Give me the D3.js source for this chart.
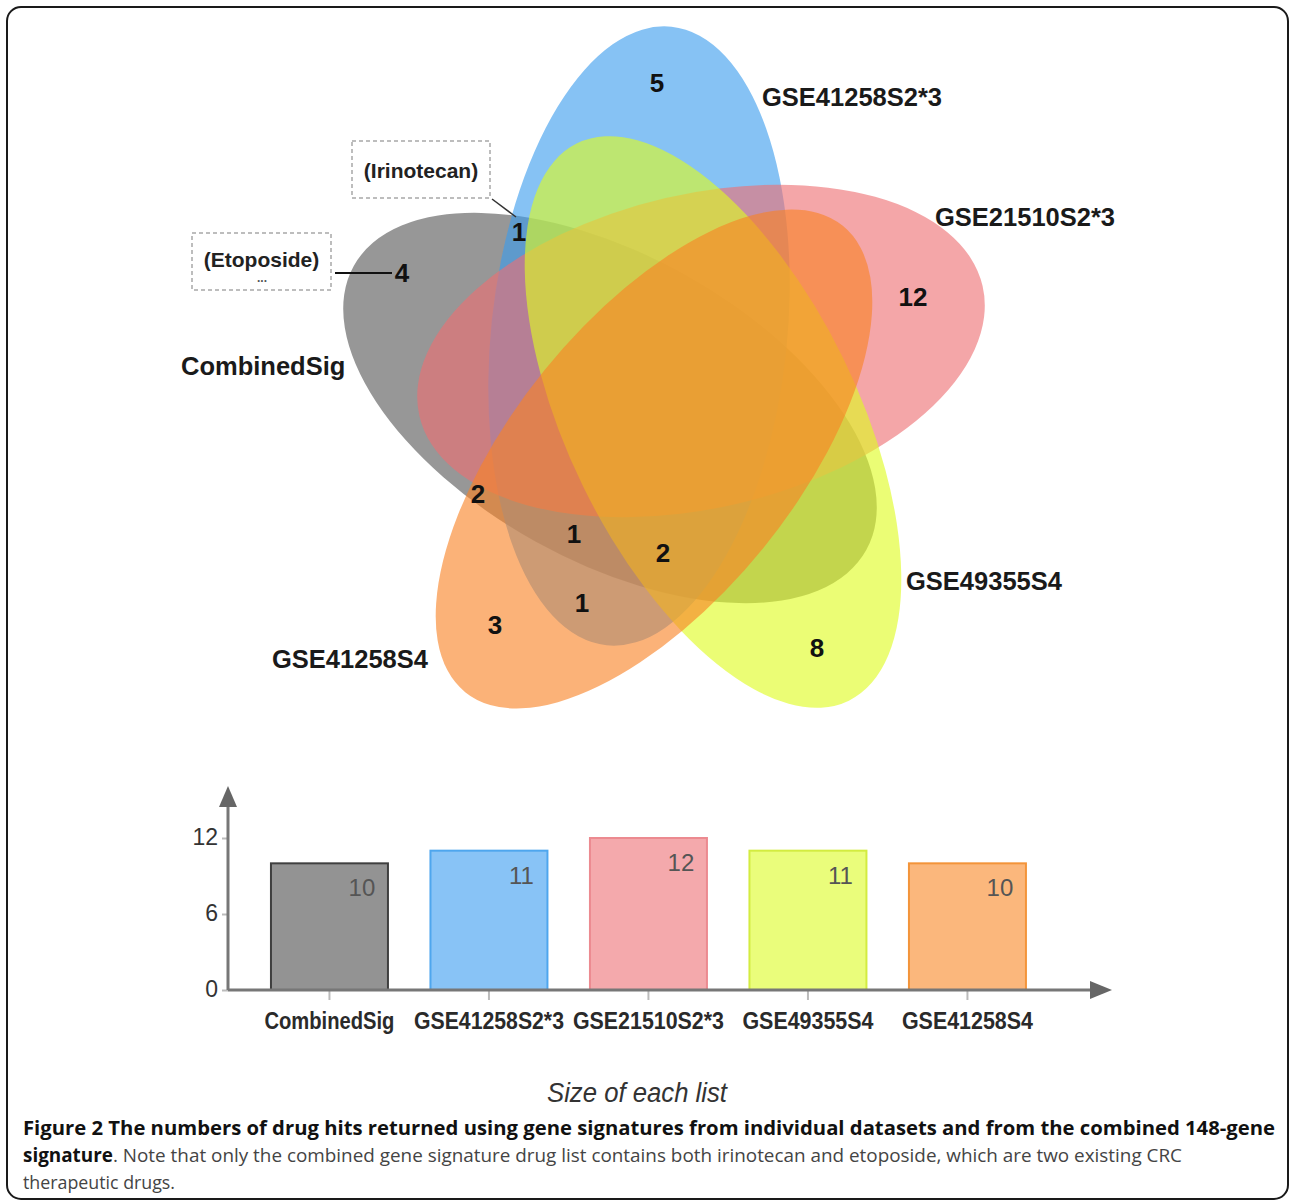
<!DOCTYPE html>
<html><head><meta charset="utf-8">
<script src="https://cdn.jsdelivr.net/npm/d3@7"></script>
<style>html,body{margin:0;padding:0;background:#fff;} svg{display:block;}</style>
</head><body>
<svg id="chart" width="1289" height="1201"></svg>
<script>
// ---------------- DATA ----------------
const setNames = ["CombinedSig", "GSE41258S2*3", "GSE21510S2*3", "GSE49355S4", "GSE41258S4"];
const listSizes = [10, 11, 12, 11, 10];
const regionSets = [
  ["GSE41258S2*3"],
  ["CombinedSig", "GSE41258S2*3"],
  ["CombinedSig"],
  ["GSE21510S2*3"],
  ["CombinedSig", "GSE41258S4"],
  ["CombinedSig", "GSE41258S2*3", "GSE41258S4"],
  ["CombinedSig", "GSE41258S2*3", "GSE49355S4", "GSE41258S4"],
  ["GSE41258S2*3", "GSE41258S4"],
  ["GSE41258S4"],
  ["GSE49355S4"]
];
const regionCounts = [5, 1, 4, 12, 2, 1, 2, 1, 3, 8];
const yTickValues = [0, 6, 12];
const drugNotes = ["(Irinotecan)", "(Etoposide)"];
const xAxisTitle = "Size of each list";
const captionLine1 = "Figure 2 The numbers of drug hits returned using gene signatures from individual datasets and from the combined 148-gene";
const captionLine2Bold = "signature";
const captionLine2 = ". Note that only the combined gene signature drug list contains both irinotecan and etoposide, which are two existing CRC";
const captionLine3 = "therapeutic drugs.";

// ---------------- LAYOUT / STYLE ----------------
const vennFill = ["#575757", "#3c9dee", "#ed7073", "#defc21", "#f88225"];
const barFill = ["#939393", "#88c3f6", "#f4a9ac", "#eafd7b", "#fbb77c"];
const barStroke = ["#3f3f3f", "#4ea6ee", "#ec8a90", "#d3ec40", "#f3943a"];
const catLabelWidth = [130, 150, 151, 131, 131];
// ellipse geometry in venn units (offsets from the venn centre)
const ellipseGeom = [
  {cx: -50, cy: 8,   a: 293, b: 153, rot: 29},
  {cx: -21, cy: -64, a: 311, b: 148, rot: 96},
  {cx: 41,  cy: -49, a: 289, b: 157, rot: -13},
  {cx: 53,  cy: 22,  a: 310, b: 145, rot: 64},
  {cx: -6,  cy: 59,  a: 300, b: 141, rot: 129}
];
const regionLabelPos = [[-3,-317],[-141,-168],[-258,-127],[253,-103],[-182,94],[-86,134],[3,153],[-78,203],[-165,225],[157,248]];
const setLabelPos = [[-479,-34],[102,-303],[275,-183],[246,181],[-388,259]];

const svg = d3.select("#chart");

// border
svg.append("rect").attr("x", 7).attr("y", 7).attr("width", 1281).attr("height", 1192)
  .attr("rx", 14).attr("fill", "none").attr("stroke", "#1a1a1a").attr("stroke-width", 2);

// ---------------- VENN ----------------
const vx = d3.scaleLinear().domain([-400, 400]).range([260, 1060]);
const vy = d3.scaleLinear().domain([-400, 400]).range([0, 800]);
const vk = (vx(1) - vx(0));

const venn = svg.append("g");
venn.selectAll("ellipse").data(setNames).join("ellipse")
  .attr("cx", (d, i) => vx(ellipseGeom[i].cx))
  .attr("cy", (d, i) => vy(ellipseGeom[i].cy))
  .attr("rx", (d, i) => ellipseGeom[i].a * vk)
  .attr("ry", (d, i) => ellipseGeom[i].b * vk)
  .attr("transform", (d, i) => `rotate(${ellipseGeom[i].rot},${vx(ellipseGeom[i].cx)},${vy(ellipseGeom[i].cy)})`)
  .attr("fill", (d, i) => vennFill[i])
  .attr("fill-opacity", 0.62);

venn.selectAll("text.cnt").data(regionCounts).join("text").attr("class", "cnt")
  .attr("x", (d, i) => vx(regionLabelPos[i][0]))
  .attr("y", (d, i) => vy(regionLabelPos[i][1]))
  .attr("dy", "0.36em")
  .attr("text-anchor", "middle")
  .style("font-family", "'Liberation Sans', Arial, sans-serif")
  .style("font-weight", "bold").style("font-size", "26px").attr("fill", "#111")
  .text(d => d);

venn.selectAll("text.setlab").data(setNames).join("text").attr("class", "setlab")
  .attr("x", (d, i) => vx(setLabelPos[i][0]))
  .attr("y", (d, i) => vy(setLabelPos[i][1]))
  .attr("dy", "0.36em")
  .style("font-family", "'Liberation Sans', Arial, sans-serif")
  .style("font-weight", "bold").style("font-size", "25.5px").attr("fill", "#1a1a1a")
  .text(d => d);

// annotation boxes
const notes = svg.append("g").style("font-family", "'Liberation Sans', Arial, sans-serif");
const noteBoxes = [
  {x: -308, y: -259, w: 138, h: 57, ty: -230, line: [[-168, -201], [-144, -183]]},
  {x: -468, y: -167, w: 139, h: 57, ty: -141, line: [[-325, -127], [-268, -127]]}
];
noteBoxes.forEach((b, i) => {
  notes.append("rect").attr("x", vx(b.x)).attr("y", vy(b.y)).attr("width", b.w * vk).attr("height", b.h * vk)
    .attr("fill", "none").attr("stroke", "#a8a8a8").attr("stroke-width", 1.5).attr("stroke-dasharray", "4,3");
  notes.append("text").attr("x", vx(b.x + b.w / 2)).attr("y", vy(b.ty))
    .attr("dy", "0.36em").attr("text-anchor", "middle")
    .style("font-weight", "bold").style("font-size", "21px").attr("fill", "#222").text(drugNotes[i]);
  notes.append("line").attr("x1", vx(b.line[0][0])).attr("y1", vy(b.line[0][1]))
    .attr("x2", vx(b.line[1][0])).attr("y2", vy(b.line[1][1]))
    .attr("stroke", i === 0 ? "#333" : "#111").attr("stroke-width", i === 0 ? 1.5 : 2);
});
notes.append("text").attr("x", vx(-398)).attr("y", vy(-118)).attr("text-anchor", "middle")
  .style("font-weight", "bold").style("font-size", "12px").attr("fill", "#555").text("...");

// ---------------- BAR CHART ----------------
const x = d3.scaleBand().domain(setNames).range([249.7, 1047.2]).paddingInner(0.2665).paddingOuter(0.1333);
const y = d3.scaleLinear().domain([0, 12]).range([990, 838]);
const bar = svg.append("g");

bar.selectAll("rect.bar").data(listSizes).join("rect").attr("class", "bar")
  .attr("x", (d, i) => x(setNames[i]))
  .attr("y", d => y(d))
  .attr("width", x.bandwidth())
  .attr("height", d => y(0) - y(d))
  .attr("fill", (d, i) => barFill[i])
  .attr("stroke", (d, i) => barStroke[i]).attr("stroke-width", 2);

bar.selectAll("text.val").data(listSizes).join("text").attr("class", "val")
  .attr("x", (d, i) => x(setNames[i]) + x.bandwidth() - 26)
  .attr("y", d => y(d) + 33)
  .attr("text-anchor", "middle")
  .style("font-family", "'Liberation Sans', Arial, sans-serif").style("font-size", "24px")
  .attr("fill", "#555").text(d => d);

// y axis
const yAxis = bar.append("g").attr("transform", "translate(228,0)")
  .call(d3.axisLeft(y).tickValues(yTickValues).tickSize(6).tickPadding(4));
yAxis.select(".domain").remove();
yAxis.selectAll(".tick line").attr("stroke", "#bbb").attr("stroke-width", 2);
yAxis.selectAll(".tick text").style("font-family", "'Liberation Sans', Arial, sans-serif")
  .style("font-size", "23px").attr("fill", "#333").attr("dy", "0.28em");

// x axis
const xAxis = bar.append("g").attr("transform", "translate(0,990)")
  .call(d3.axisBottom(x).tickSize(10).tickPadding(13));
xAxis.select(".domain").remove();
xAxis.selectAll(".tick line").attr("stroke", "#bbb").attr("stroke-width", 2);
xAxis.selectAll(".tick text")
  .attr("textLength", (d, i) => catLabelWidth[i]).attr("lengthAdjust", "spacingAndGlyphs")
  .style("font-family", "'Liberation Sans', Arial, sans-serif")
  .style("font-size", "23px").style("font-weight", "bold").attr("fill", "#2a2a2a");

// axis lines with arrows
bar.append("line").attr("x1", 228).attr("y1", y(0)).attr("x2", 228).attr("y2", 800)
  .attr("stroke", "#777").attr("stroke-width", 3);
bar.append("line").attr("x1", 228).attr("y1", y(0)).attr("x2", 1095).attr("y2", y(0))
  .attr("stroke", "#777").attr("stroke-width", 3);
bar.append("path").attr("d", `M228,786 L219,807 L237,807 Z`).attr("fill", "#666");
bar.append("path").attr("d", `M1112,${y(0)} L1090,${y(0) - 9} L1090,${y(0) + 9} Z`).attr("fill", "#666");

bar.append("text").attr("x", 637).attr("y", 1102).attr("text-anchor", "middle")
  .attr("textLength", 180).attr("lengthAdjust", "spacingAndGlyphs")
  .style("font-family", "'Liberation Sans', Arial, sans-serif").style("font-style", "italic")
  .style("font-size", "27px").attr("fill", "#333").text(xAxisTitle);

// ---------------- CAPTION ----------------
const cap = svg.append("g").style("font-family", "'Open Sans', 'Noto Sans', sans-serif").style("font-size", "19px");
cap.append("text").attr("x", 23).attr("y", 1135).attr("textLength", 1252).attr("lengthAdjust", "spacingAndGlyphs")
  .style("font-weight", "bold").attr("fill", "#111").text(captionLine1);
const l2 = cap.append("text").attr("x", 23).attr("y", 1162).attr("textLength", 1159).attr("lengthAdjust", "spacingAndGlyphs");
l2.append("tspan").style("font-weight", "bold").attr("fill", "#111").text(captionLine2Bold);
l2.append("tspan").attr("fill", "#444").text(captionLine2);
cap.append("text").attr("x", 23).attr("y", 1189).attr("textLength", 152).attr("lengthAdjust", "spacingAndGlyphs")
  .attr("fill", "#444").text(captionLine3);
</script>
</body></html>
